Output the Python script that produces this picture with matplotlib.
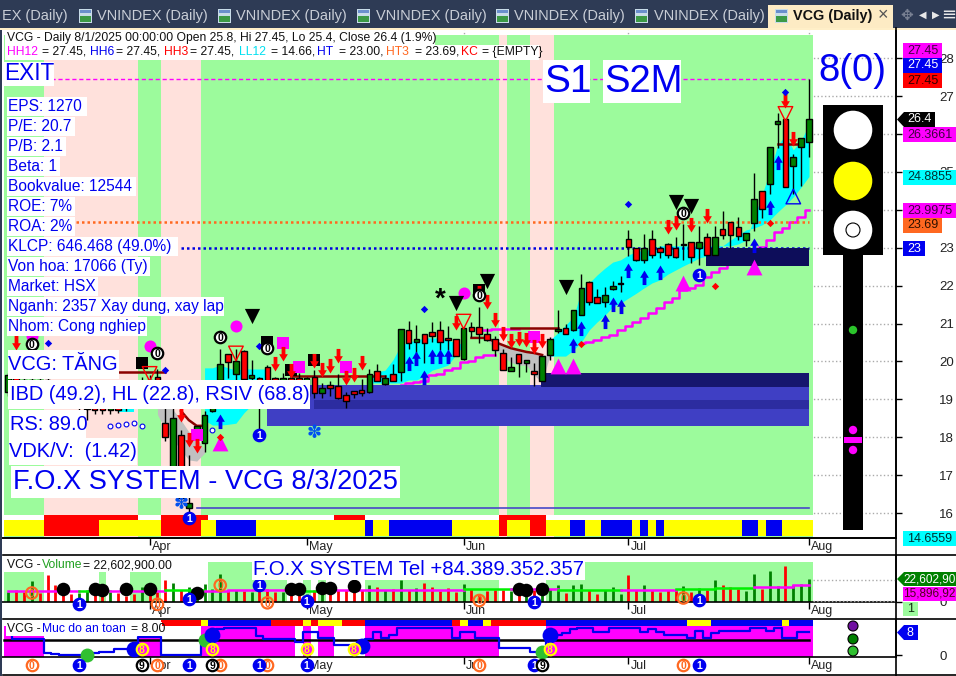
import numpy as np
import matplotlib
matplotlib.use("Agg")
import matplotlib.pyplot as plt
from matplotlib.path import Path
from matplotlib.patches import Rectangle, Circle, Polygon
from matplotlib.markers import MarkerStyle
from matplotlib.transforms import Affine2D

plt.rcParams['font.family'] = ['Liberation Sans', 'DejaVu Sans']

# ---------- DATA ----------
opens = [19.2,19.6,19.5,19.2,19.5,19.5,19.1,19.1,19.05,18.8,18.74,18.95,18.95,18.72,18.95,19.0,19.3,19.1,19.5,19.6,
         18.38,17.0,18.05,16.13,18.0,17.86,18.7,19.5,20.19,19.68,20.27,19.55,19.55,19.86,19.55,19.3,19.55,19.55,19.1,19.6,
         19.16,19.38,19.35,19.11,19.22,19.25,19.19,19.75,19.4,19.66,19.73,20.83,20.52,20.71,20.77,20.83,20.63,20.58,20.06,20.9,
         20.9,20.72,20.58,20.21,19.75,20.19,19.97,19.74,19.49,20.18,20.79,20.87,20.84,21.23,22.09,21.69,21.58,21.92,22.04,23.23,
         22.98,22.68,23.23,22.98,23.09,22.98,23.08,23.14,22.98,23.27,22.82,23.49,23.67,23.54,23.21,23.66,24.49,24.67,26.27,26.39,
         25.16,25.67,25.8]
highs = [19.7,19.7,19.6,19.6,19.6,19.7,19.2,19.2,19.1,19.1,19.0,19.05,19.05,19.0,19.0,19.1,19.4,19.6,19.65,19.8,
         18.9,18.9,18.2,17.53,18.3,18.7,19.5,20.34,20.19,20.34,20.3,20.04,19.6,19.9,19.6,19.7,19.7,19.7,19.6,19.77,
         19.42,19.47,19.68,19.2,19.22,19.53,19.79,19.93,19.64,19.93,20.85,21.06,20.96,20.71,21.03,21.06,20.93,20.6,20.87,21.05,
         21.44,20.87,20.67,20.32,20.12,20.19,20.04,19.95,20.14,20.65,21.36,21.0,21.35,22.3,22.12,21.9,21.95,22.12,22.25,23.47,
         22.98,23.36,23.47,23.05,23.12,23.27,23.62,23.16,23.57,23.4,23.57,23.97,23.67,23.8,23.38,24.96,24.49,25.67,26.55,26.4,
         25.46,25.9,27.45]
lows = [19.1,19.2,19.1,19.1,19.1,18.9,18.9,18.9,18.8,18.7,18.45,18.6,18.6,18.6,18.65,18.7,19.0,18.9,19.2,19.0,
        17.9,16.8,16.2,15.9,18.0,17.62,18.67,19.4,19.57,19.5,19.5,18.9,18.15,19.2,19.2,19.2,19.2,19.2,19.0,19.03,
        19.03,19.1,19.02,18.78,19.04,19.09,19.17,19.47,19.37,19.49,19.48,20.32,20.17,19.95,20.52,20.3,20.3,20.13,20.04,20.65,
        20.48,20.54,20.14,19.78,19.75,19.6,19.73,19.36,19.49,20.05,20.76,20.73,20.8,21.23,21.49,21.53,21.44,21.88,21.84,22.79,
        22.64,22.59,22.72,22.74,22.72,22.72,22.67,22.6,22.54,22.8,22.82,23.23,22.98,23.2,23.05,23.44,23.79,24.43,25.64,24.6,
        24.43,24.64,25.4]
closes = [19.64,19.3,19.2,19.5,19.2,19.0,19.0,18.95,18.85,19.0,18.95,18.72,18.72,18.9,18.72,18.8,19.1,19.4,19.3,19.5,
          18.0,18.5,16.4,16.26,18.3,18.58,19.4,19.92,19.99,20.0,19.54,19.65,19.3,19.4,19.3,19.55,19.3,19.35,19.55,19.16,
          19.29,19.29,19.03,18.96,19.15,19.16,19.68,19.49,19.55,19.49,20.85,20.49,20.59,20.49,20.68,20.52,20.56,20.15,20.87,20.81,
          20.71,20.56,20.31,19.78,19.84,19.97,20.04,19.68,20.14,20.58,20.85,20.73,21.35,21.93,21.58,21.53,21.74,21.99,22.04,23.03,
          22.68,22.98,22.82,22.88,22.81,22.76,23.08,22.76,23.14,22.82,23.27,23.33,23.33,23.32,23.38,24.28,24.03,25.67,26.33,24.61,
          25.38,25.89,26.4]
volume = [10,12,10,21,9,27,17,8,8,9,12,9,8,10,9,6,8,15,12,10,22,19,12,15,10,18,13,28,12,12,11,10,22,13,10,10,7,8,8,12,
          10,14,12,12,10,12,17,15,12,13,22,12,14,19,15,11,14,10,18,13,8,11,12,12,11,7,8,12,8,13,17,9,17,18,12,8,12,15,8,27,
          12,17,12,10,12,12,16,10,14,12,22,17,15,13,11,28,13,31,16,36,17,18,22.6]
vol_ma_idx = [0,9,11,13,20,25,28,33,36,40,46,58,64,70,78,85,90,95,100,102]
vol_ma_val = [11,11.5,11.5,11.5,12,11.5,12,12.5,11.5,12,12.5,13,13,12.5,12.5,13,14,15,16.7,17]
vol_ma_col = ['m','g','g','m','g','m','m','m','g','m','m','g','m','g','m','g','g','m','m']
safety = [10,5.4,5.4,5.4,5.4,0.7,0.3,0,0,0,0.8,0.8,1,1,2.2,2.2,2.2,6.3,6.3,6.3,0,0,0,0,0,5.2,6.9,8.8,9.2,9.2,9.2,9.2,6.6,5.4,5.4,5.4,5.4,
          4.6,8,8,6,6,3.5,3.5,2.4,2.4,5.4,8,5.8,6.9,9.2,9.2,9.2,9.2,9.2,9.2,9.2,5.8,8,8,5.8,5.8,5.8,2.4,2.4,2.4,2.4,1.2,1.2,6.9,6.9,7.5,8.9,
          9.2,9.2,8,8,9.2,9.2,9.2,9.2,8,8.8,8,6.9,6.9,6.9,5.8,8.2,5.8,7.5,8.2,8.2,8.2,8.2,9.2,9.2,8.2,9.2,5.8,5.8,8,8]

month_ticks = [18, 38, 58, 79, 102]
month_labels = ['Apr', 'May', 'Jun', 'Jul', 'Aug']
price_ticks = [16,17,18,19,20,21,22,23,24,25,26,27,28]
price_labels = ['16','17','18','19','20','21','22','23','','25','','27','28']

pink_runs = [(5,17),(20,25),(63,64),(67,70)]
strip_top_red = [(5,17),(20,26),(42,46),(63,69)]
strip_edges = [0,5,12,20,25,27,32,46,47,49,57,63,64,67,69,72,74,76,80,81,82,83,84,94,96,97,99,103]
strip_cols  = ['y','r','y','r','y','b','y','b','y','b','y','r','y','r','y','b','y','b','y','b','y','b','y','b','y','b','y']

vol_bg = [(0,5,30),(12,13,30),(16,20,30),(26,32,40),(32,36,22),(38,39,22),(40,41,22),(46,63,22),(69,103,40)]
safe_pink = [(0,5),(17,20),(25,37),(38,39),(40,42),(46,63),(69,103)]
safe_edges = [20,25,26,34,38,39,40,43,46,57,58,59,61,62,69,87,90,99,100,103]
safe_cols  = ['r','y','b','r','y','r','y','r','b','r','y','b','y','r','b','y','b','y','b']

cyanA_idx = list(range(69,103))
cyanA_lo = [20.14,20.14,20.14,20.3,20.51,20.83,21.04,21.22,21.44,21.54,21.67,21.8,21.94,22.07,22.15,22.3,22.41,22.52,22.62,22.73,22.78,22.89,23.05,23.2,23.34,23.47,23.52,23.6,23.73,23.94,24.13,24.34,24.6,24.88]
cyanA_hi = [20.56,20.75,20.96,21.17,21.88,22.07,22.28,22.46,22.62,22.68,22.81,22.89,22.94,22.94,23.05,23.05,23.05,23.05,23.05,23.05,23.05,23.05,23.05,23.05,23.1,23.2,23.78,24.39,25.0,25.7,25.97,25.58,25.84,26.24]
cyanB_idx = list(range(46,59))
cyanB_lo = [19.43,19.43,19.43,19.43,19.43,19.51,19.51,19.61,19.77,19.83,19.9,20.17,20.43]
cyanB_hi = [19.51,19.72,19.77,20.04,20.43,20.51,20.56,20.62,20.62,20.62,20.56,20.49,20.46]
cyanC_idx = list(range(25,34))
cyanC_lo = [18.45,18.32,18.32,18.34,18.37,18.64,18.85,18.98,19.25]
cyanC_hi = [19.83,19.83,19.9,19.83,19.77,19.8,19.8,19.8,19.8]
cyanD_idx = [14,15,16]
cyanD_lo = [18.67,18.67,18.67]
cyanD_hi = [18.85,18.85,18.85]
grayA_idx = [19,20,21,22,23,24,25]
grayA_lo = [18.6,18.19,17.93,17.66,17.4,17.37,17.58]
grayA_hi = [18.98,18.93,18.72,18.45,18.14,17.98,17.66]
grayB_idx = list(range(61,70))
grayB_lo = [20.57,20.3,20.12,19.98,19.9,19.9,19.64,19.43,20.17]
grayB_hi = [20.62,20.51,20.43,20.35,20.3,20.25,20.22,20.17,20.17]

ht_left_idx = list(range(50,63))
ht_left = [19.38,19.43,19.46,19.48,19.64,19.67,19.77,19.83,19.98,20.0,20.12,20.17,20.17]
ht_right_idx = list(range(73,103))
ht_right = [20.49,20.51,20.56,20.64,20.7,20.83,20.93,21.04,21.14,21.28,21.41,21.57,21.67,21.88,21.94,22.02,22.23,22.36,22.46,22.62,22.7,22.8,22.95,23.02,23.2,23.41,23.52,23.68,23.81,23.99]
ht_up_idx = [60,61,62,63,64,65]
ht_up = [20.83,20.83,20.86,20.86,20.86,20.86]

brown_segments = [([14,15,16,17,18,19,20],[19.72]*7),
                  ([22,23,24,25],[18.69,18.45,18.3,18.3]),
                  ([36,37,38,39,40,41,42,43,44,45,46,47,48],[19.61]*13),
                  ([59,60,61,62,63,64,65,66,67,68],[20.62,20.62,20.62,20.51,20.43,20.35,20.3,20.25,20.22,20.17]),
                  ([64,65,66,67,68,69,70],[20.88]*7),
                  ([98,99,100,101],[25.74]*4)]

zones_start = [33.4, 39.5, 68.4, 89.4]
zones_end = [102, 102, 102, 102]
zones_lo = [18.30, 18.74, 19.32, 22.52]
zones_hi = [19.38, 18.98, 19.69, 23.0]
zones_col = ['#3F3FC4', '#2C2CA0', '#16166E', '#0D0D5A']

red_arrow_i = [84,85,87,89,100,99,62,63,64,65,66,67,68,57,60,61,22,23,24,34,35,36,39,40,41,42,43,44,45,1]
red_arrow_p = [23.36,23.47,23.41,23.65,25.68,26.69,20.91,20.54,20.35,20.41,20.38,20.2,20.35,20.83,21.62,21.38,18.4,17.74,17.58,19.75,20.01,19.56,19.83,19.59,19.69,19.96,19.38,19.46,19.77,20.3]
blue_arrow_i = [83,98,97,95,79,81,77,78,76,73,72,51,52,54,55,56,53,27]
blue_arrow_p = [22.54,25.45,24.26,23.26,22.6,22.41,21.7,21.65,21.25,21.07,20.62,20.14,20.27,20.33,20.33,20.33,19.77,18.61]
black_tri_i = [85,87,71,57,61,31]
black_tri_p = [24.2,24.11,21.95,21.55,22.11,21.21]
mag_circ_i = [29,58,18,3]
mag_circ_p = [20.93,21.8,20.41,20.67]
black_sq_i = [17,33,36,39,60]
black_sq_p = [19.96,20.51,19.77,20.04,21.88]
mag_sq_i = [35,37,43,67,24]
mag_sq_p = [20.49,19.85,19.85,20.64,18.06]
blue_dia_i = [32,20,53,99,79,5]
blue_dia_p = [20.41,19.77,21.38,27.11,24.15,20.49]
red_dia_i = [97,90,73,27]
red_dia_p = [23.65,21.99,20.46,18.0]
mag_tri_i = [27,70,72,86,95]
mag_tri_p = [17.85,19.87,19.89,22.07,22.5]
red_open_i = [29,58,99,18]
red_open_p = [20.21,21.05,26.53,19.67]
blue_open_i = [100]
blue_open_p = [24.35]
zero_i = [27,19,86,3,33,60]
zero_p = [20.64,20.22,23.92,20.46,20.35,21.75]
one_i = [32,23,88]
one_p = [18.06,15.87,22.28]
small_o_i = [13,14,15,16,17,26]
small_o_p = [18.3,18.33,18.35,18.37,18.3,18.2]

vol_black_i = [7,11,12,15,18,24,36,37,40,41,44,65,66,68]
vol_black_v = [13,13,12.5,13,13,8.7,13,13,14,14,15.7,13.5,12,13.5]
vol_zero_i = [3,19,27,33,86,60]
vol_zero_v = [9,-2.3,16.7,-0.8,4,1.5]
vol_one_i = [9,23,32,38,67,88]
vol_one_v = [-2.3,3,17,1,0,2]

bot_zero = [3,19,27,33,60,86]
bot_one = [9,23,32,38,67,88]
bot_nine = [17,26,68]
s_eight_i = [17,26,38,44,69]
s_eight_v = [2.1,2.1,2.1,2.1,2.1]
s_blue_i = [16,26,45,69]
s_blue_v = [2.1,6.8,3.2,6.8]
s_lime_i = [10,25,68]
s_lime_v = [0,5.2,1.1]

N = len(closes)
idx = np.arange(N)
W, H = 956, 676
GREEN_BG, PINK_BG = '#9CFB9C', '#FFE1DC'
COL = {'y':'#FFFF00','r':'#FF0000','b':'#0000F0','m':'#FF00FF','g':'#00F000'}

fig = plt.figure(figsize=(W/100, H/100), dpi=100, facecolor='white')
def make_ax(y0, y1, x1=896):
    return fig.add_axes([0, 1-y1/H, x1/W, (y1-y0)/H])

x_left = (0-8.3)/7.85
x_right = (896-8.3)/7.85

ax = make_ax(30, 538)
ax.set_xlim(x_left, x_right)
ax.set_ylim(16+(513-538)/37.9, 16+(513-30)/37.9)
axv = make_ax(555, 602); axv.set_xlim(x_left, x_right); axv.set_ylim(0, 47)
axs = make_ax(619, 657); axs.set_xlim(x_left, x_right); axs.set_ylim(-0.58, 12.3)

for a in (ax, axv, axs):
    a.set_facecolor('white')
    for s in ('left','top'):
        a.spines[s].set_visible(False)
    a.spines['bottom'].set_linewidth(1.2)
    a.spines['right'].set_linewidth(1.2)
    a.yaxis.tick_right()
    a.set_xticks(month_ticks)
    a.set_xticklabels(month_labels, ha='left', fontsize=9, color='#222222')
    a.tick_params(axis='x', length=5, width=1, pad=-2.5)
    a.tick_params(axis='y', length=4, width=1, pad=27, labelsize=9.5, labelcolor='#222222')
    for lb in a.get_xticklabels():
        lb.set_transform(lb.get_transform() + Affine2D().translate(2, 0))
    a.set_axisbelow(True)
ax.grid(True, ls=':', color='#AAAAAA', lw=1)

ax.set_yticks(price_ticks)
ax.set_yticklabels(price_labels)
axv.set_yticks([0]); axv.set_yticklabels(['0'])
axs.set_yticks([0]); axs.set_yticklabels(['0'])

# ---------- main background ----------
top_frac = (538-35)/508
ax.axvspan(-0.5, N-0.5, ymin=0, ymax=top_frac, color=GREEN_BG, lw=0, zorder=0.7)
for a_, b_ in pink_runs:
    ax.axvspan(a_-0.5, b_-0.5, ymin=0, ymax=top_frac, color=PINK_BG, lw=0, zorder=0.75)

y_p = lambda y: 16+(513-y)/37.9
ax.broken_barh([(-0.5, N)], (y_p(520), y_p(515)-y_p(520)), facecolors='white', zorder=0.8)
for a_, b_ in strip_top_red:
    ax.broken_barh([(a_-0.5, b_-a_)], (y_p(520), y_p(515)-y_p(520)), facecolors='#FF0000', zorder=0.9)
for k, c in enumerate(strip_cols):
    ax.broken_barh([(strip_edges[k]-0.5, strip_edges[k+1]-strip_edges[k])], (y_p(536), y_p(520)-y_p(536)),
                   facecolors=COL[c], zorder=0.9)

# ---------- bands ----------
for i_, lo, hi in ((cyanA_idx,cyanA_lo,cyanA_hi),(cyanB_idx,cyanB_lo,cyanB_hi),(cyanC_idx,cyanC_lo,cyanC_hi),(cyanD_idx,cyanD_lo,cyanD_hi)):
    ax.fill_between(i_, lo, hi, color='#00FFFF', lw=0, zorder=1)
for i_, lo, hi in ((grayA_idx,grayA_lo,grayA_hi),(grayB_idx,grayB_lo,grayB_hi)):
    ax.fill_between(i_, lo, hi, color='#C0C0C0', lw=0, zorder=1)

# ---------- lines ----------
for i_, v_ in ((ht_left_idx,ht_left),(ht_right_idx,ht_right),(ht_up_idx,ht_up)):
    ax.plot(i_, v_, color='#FF00FF', lw=1.8, drawstyle='steps-mid', zorder=1.5)
ax.plot([x_left+6.5, 102], [27.45]*2, color='#FF00FF', lw=1, ls=(0,(3,2)), zorder=1.6)
ax.plot([8.6, 102], [23.69]*2, color='#FF6820', lw=1.8, ls=(0,(1,1.2)), zorder=1.6)
ax.plot([22, 102], [23.0]*2, color='#0000E0', lw=1.8, ls=(0,(1,1.2)), zorder=1.6)
ax.plot([24, 102], [16.12]*2, color='#4848C8', lw=1.2, zorder=1.6)
for i_, v_ in brown_segments:
    ax.plot(i_, v_, color='#8B0000', lw=1.8, zorder=2.6)

# ---------- support zones ----------
for a_, b_, lo, hi, c in zip(zones_start, zones_end, zones_lo, zones_hi, zones_col):
    ax.broken_barh([(a_-0.5, b_-a_+0.5)], (lo, hi-lo), facecolors=c, zorder=2)

# ---------- candles ----------
o, h, l, c_ = map(np.array, (opens, highs, lows, closes))
ax.vlines(idx, l, h, color='black', lw=1, zorder=3)
colors = np.where(c_ >= o, '#008000', '#FF0000')
ax.bar(idx, np.maximum(np.abs(c_-o), 0.02), bottom=np.minimum(o, c_), width=0.72,
       color=colors, edgecolor='black', linewidth=1, zorder=3.2)

# ---------- markers ----------
def arrow_marker(points_up):
    v = [(0,0),(0.3,-0.5),(0.13,-0.5),(0.13,-1),(-0.13,-1),(-0.13,-0.5),(-0.3,-0.5),(0,0)]
    v = [(x, y if points_up else -y) for x, y in v]
    return MarkerStyle(Path(v, closed=True))

ax.scatter(black_sq_i, black_sq_p, marker='s', s=75, color='black', lw=0, zorder=4)
ax.scatter(mag_sq_i, mag_sq_p, marker='s', s=75, color='#FF00FF', lw=0, zorder=4)
ax.scatter(mag_circ_i, mag_circ_p, marker='o', s=75, color='#FF00FF', lw=0, zorder=4)
ax.scatter(black_tri_i, black_tri_p, marker='v', s=120, color='black', lw=0, zorder=4)
ax.scatter(mag_tri_i, mag_tri_p, marker='^', s=130, color='#FF00FF', lw=0, zorder=3.1)
ax.scatter(blue_arrow_i, blue_arrow_p, marker=arrow_marker(True), s=440, color='#0000F0', lw=0, zorder=4.2)
ax.scatter(red_arrow_i, red_arrow_p, marker=arrow_marker(False), s=440, color='#FF0000', lw=0, zorder=4.3)
ax.scatter(red_open_i, red_open_p, marker='v', s=110, facecolor='none', edgecolor='#FF0000', lw=1, zorder=4.4)
ax.scatter(blue_open_i, blue_open_p, marker='^', s=110, facecolor='none', edgecolor='#0000F0', lw=1, zorder=4.4)
ax.scatter(blue_dia_i, blue_dia_p, marker='D', s=14, color='#0000F0', lw=0, zorder=4.5)
ax.scatter(red_dia_i, red_dia_p, marker='D', s=14, color='#FF0000', lw=0, zorder=4.5)
ax.scatter(small_o_i, small_o_p, marker='o', s=12, facecolor='white', edgecolor='#0000F0', lw=0.8, zorder=4.5)

def digit_marks(a, xs, ys, txt, fc, ec, tc, clip=False, s=68, lw=1.6, z=5):
    a.scatter(xs, ys, marker='o', s=s, facecolor=fc, edgecolor=ec, linewidth=lw, zorder=z, clip_on=clip)
    for x_, y_ in zip(xs, ys):
        a.text(x_, y_, txt, ha='center', va='center_baseline', fontsize=7.5, fontweight='bold',
               color=tc, zorder=z+0.1, clip_on=clip)

digit_marks(ax, zero_i, zero_p, '0', 'white', 'black', 'black')
digit_marks(ax, one_i, one_p, '1', '#0000F0', '#0000F0', 'white')
ax.text(55, 21.62, '*', fontsize=20, ha='center', va='center', color='black', zorder=5, fontweight='bold')
ax.text(39, 18.1, '✽', fontsize=13, ha='center', va='center', color='#0050F0', zorder=5, family='DejaVu Sans')
ax.text(22, 16.25, '✽', fontsize=13, ha='center', va='center', color='#0050F0', zorder=5, family='DejaVu Sans')

# ---------- volume panel ----------
for a_, b_, t_ in vol_bg:
    axv.broken_barh([(a_-0.5, b_-a_)], (0, t_), facecolors=GREEN_BG, zorder=0.8)
axv.vlines(idx, 0, volume, color=colors, lw=2, zorder=2)
for k, c in enumerate(vol_ma_col):
    axv.plot(vol_ma_idx[k:k+2], [vol_ma_val[k]]*2, color=COL[c], lw=1.8, zorder=2.5)
axv.scatter(vol_black_i, vol_black_v, marker='o', s=95, color='black', lw=0, zorder=3, clip_on=False)
digit_marks(axv, vol_zero_i, vol_zero_v, '0', 'none', '#FF6820', '#FF6820')
digit_marks(axv, vol_one_i, vol_one_v, '1', '#0000F0', '#0000F0', 'white')

# ---------- safety panel ----------
for a_, b_ in safe_pink:
    axs.broken_barh([(a_-0.5, b_-a_)], (-0.58, 10.48), facecolors='#FF00FF', zorder=0.8)
for k, c in enumerate(safe_cols):
    axs.broken_barh([(safe_edges[k]-0.5, safe_edges[k+1]-safe_edges[k])], (9.9, 1.9), facecolors=COL[c], zorder=0.9)
axs.plot([-0.5, 102], [5.2, 5.2], color='black', lw=1.8, zorder=1)
axs.plot(idx, safety, color='#0000F0', lw=1.6, drawstyle='steps-mid', zorder=2)
axs.scatter(s_lime_i, s_lime_v, marker='o', s=100, color='#30C030', lw=0, zorder=3, clip_on=False)
axs.scatter(s_blue_i, s_blue_v, marker='o', s=130, color='#0000F0', lw=0, zorder=3)
digit_marks(axs, s_eight_i, s_eight_v, '8', '#FF00FF', '#FFFF00', '#FFFF00', clip=True, z=4)
by = [-3.4]
digit_marks(axs, bot_zero, by*len(bot_zero), '0', 'white', '#FF6820', '#FF6820')
digit_marks(axs, bot_one, by*len(bot_one), '1', '#0000F0', '#0000F0', 'white', z=5.5)
digit_marks(axs, bot_nine, by*len(bot_nine), '9', 'white', 'black', 'black', z=5.8)

# ---------- overlay (pixel space) ----------
ov = fig.add_axes([0, 0, 1, 1], zorder=20)
ov.set_xlim(0, W); ov.set_ylim(H, 0); ov.axis('off'); ov.patch.set_alpha(0)

def rect(x0, y0, x1, y1, c, z=1, **kw):
    ov.add_patch(Rectangle((x0, y0), x1-x0, y1-y0, facecolor=c, edgecolor='none', zorder=z, **kw))

def T(x, y, s, size, color='black', ha='left', z=6, **kw):
    return ov.text(x, y, s, fontsize=size, color=color, ha=ha, va='center', zorder=z, **kw)

def BT(x0, y0, x1, y1, s, size, color='#0000F0', tx=None):
    rect(x0, y0, x1, y1, 'white', z=5)
    T(x0+1 if tx is None else tx, (y0+y1)/2, s, size, color=color)

# frame
rect(0, 0, W, 28, '#2E3B55', z=2)
rect(0, 28, W, 30, '#FFEFC8', z=2)
rect(0, 30, 2, H, '#2E3B55', z=2)
ov.plot([3, W], [555, 555], color='black', lw=1.2, zorder=3)
ov.plot([3, W], [619, 619], color='black', lw=1.2, zorder=3)
ov.plot([3, W], [675, 675], color='black', lw=1.2, zorder=3)
ov.plot([896, 896], [28, H], color='black', lw=1.2, zorder=3)
ov.plot([3, 896], [538, 538], color='black', lw=1.2, zorder=3)
ov.plot([813, 896], [580, 580], color='#AAAAAA', lw=1, ls=':', zorder=1)
ov.plot([813, 896], [601, 601], color='#AAAAAA', lw=1, ls=':', zorder=1)

tab_font = 10.45
T(68, 16, 'EX (Daily)', tab_font, '#C8CDD6', ha='right', z=3)
def tab_icon(x):
    rect(x, 9, x+13, 23, '#C8DCE8', z=3)
    rect(x+1, 16, x+12, 22, '#3C9A46', z=3.1)
    rect(x+1, 10, x+12, 13, '#6A8FCC', z=3.1)
for ix, tx_ in ((79,97),(218,236),(357,376),(496,514),(635,654)):
    tab_icon(ix)
    T(tx_, 16, 'VNINDEX (Daily)', tab_font, '#C8CDD6', z=3)
rect(768, 5, 893, 28, '#FDEBC4', z=2.5)
tab_icon(775)
T(793, 16, 'VCG (Daily)', 10.4, '#111111', fontweight='bold', z=3)
T(883, 15.5, '×', 13, '#555555', ha='center', z=3)
T(907, 15, '✥', 11, '#7A8294', ha='center', z=3, family='DejaVu Sans')
T(923, 15, '◀', 7, '#E8E8E8', ha='center', z=3, family='DejaVu Sans')
T(936, 15, '▶', 7, '#E8E8E8', ha='center', z=3, family='DejaVu Sans')
T(949, 15, '≡', 13, '#E8E8E8', ha='center', z=3, family='DejaVu Sans')

# header
hdr = 8.75
rect(5, 31, 435, 45, 'white', z=5)
rect(5, 45, 539, 60, 'white', z=5)
T(7, 38, 'VCG - Daily 8/1/2025 00:00:00 Open 25.8, Hi 27.45, Lo 25.4, Close 26.4 (1.9%)', hdr, '#111111')
for x_, s_, c_2 in ((7,'HH12','#FF00FF'),(42,'= 27.45,','#111111'),(90,'HH6','#0000F0'),(116,'= 27.45,','#111111'),
                    (164,'HH3','#FF0000'),(190,'= 27.45,','#111111'),(239,'LL12','#00E0F0'),(271,'= 14.66,','#111111'),
                    (317,'HT','#0000F0'),(339,'= 23.00,','#111111'),(386,'HT3','#FF6820'),(415,'= 23.69,','#111111'),
                    (461,'KC','#FF0000'),(482,'= {EMPTY}','#111111')):
    T(x_, 52, s_, hdr, c_2)

BT(4, 62, 54, 86, 'EXIT', 16.3, tx=4)
BT(543, 60, 590, 103, 'S1', 28, tx=544)
BT(603, 60, 681, 103, 'S2M', 27.5, tx=604)
T(852, 71, '8(0)', 27.5, '#0000F0', ha='center')

info = ['EPS: 1270','P/E: 20.7','P/B: 2.1','Beta: 1','Bookvalue: 12544','ROE: 7%','ROA: 2%',
        'KLCP: 646.468 (49.0%)','Von hoa: 17066 (Ty)','Market: HSX','Nganh: 2357 Xay dung, xay lap','Nhom: Cong nghiep']
info_r = [87,75,66,60,136,75,75,178,150,98,224,147]
for k, (s_, r_) in enumerate(zip(info, info_r)):
    BT(7, 97+20*k, r_, 116+20*k, s_, 11.2, tx=8)

BT(8, 350, 119, 379, 'VCG: TĂNG', 14.4, tx=8)
BT(8, 380, 310, 409, 'IBD (49.2), HL (22.8), RSIV (68.8)', 14.4, tx=10)
BT(9, 410, 86, 440, 'RS: 89.0', 14.4, tx=10)
BT(9, 438, 137, 465, 'VDK/V:  (1.42)', 14.4, tx=9)
BT(11, 466, 400, 498, 'F.O.X SYSTEM - VCG 8/3/2025', 19.6, tx=13)
BT(252, 559, 585, 580, 'F.O.X SYSTEM Tel +84.389.352.357', 14.7, tx=253)

rect(6, 558, 178, 572, 'white', z=5)
T(7, 565, 'VCG -', hdr, '#111111'); T(42, 565, 'Volume', hdr, '#20A020'); T(83, 565, '= 22,602,900.00', hdr, '#111111')
rect(6, 622, 162, 636, 'white', z=5)
T(7, 629, 'VCG -', hdr, '#111111'); T(42, 629, 'Muc do an toan', hdr, '#0000F0'); T(131, 629, '= 8.00', hdr, '#111111')

# traffic light
rect(843, 255, 863, 530, 'black', z=3)
rect(823, 105, 883, 255, 'black', z=3)
for cy, col in ((130,'white'),(181,'#FFFF00'),(230,'white')):
    ov.add_patch(Circle((853, cy), 19.3, facecolor=col, edgecolor='none', zorder=4))
ov.add_patch(Circle((853, 230), 7, facecolor='white', edgecolor='black', lw=0.8, zorder=4.1))
ov.add_patch(Circle((853, 330), 4.2, facecolor='#2BC42B', edgecolor='none', zorder=4))
ov.add_patch(Circle((853, 430), 4.2, facecolor='#FF00FF', edgecolor='none', zorder=4))
ov.add_patch(Circle((853, 450), 4.2, facecolor='#FF00FF', edgecolor='none', zorder=4))
rect(844, 437, 862, 443, '#FF00FF', z=4)
for cy, col in ((626,'#7010A0'),(639,'#008000'),(651,'#30C030')):
    ov.add_patch(Circle((853, cy), 5, facecolor=col, edgecolor='black', lw=0.8, zorder=4))

# right value tags
tags = [(903,942,43,58,'27.45','#FF00FF','#400040'),(903,942,58,73,'27.45','#0000F0','white'),(903,942,73,88,'27.45','#FF0000','#300000'),
        (903,956,127,142,'26.3661','#FF00FF','#400040'),(903,956,170,185,'24.8855','#00FFFF','#003030'),
        (903,956,203,218,'23.9975','#FF00FF','#400040'),(903,942,218,233,'23.69','#FF6820','#301000'),
        (903,925,241,256,'23','#0000F0','white'),(903,956,531,546,'14.6559','#00FFFF','#003030')]
for x0, x1, y0, y1, s_, bg, fg in tags:
    rect(x0, y0, x1, y1, bg, z=5)
    T(x0+4, (y0+y1)/2, s_, 9.0, fg)
rect(903, 587, 956, 601, '#FF00FF', z=5); T(903.5, 594, '15,896,92', 8.5, '#500020')
rect(903, 602, 918, 616, '#9CFB9C', z=5); T(907, 609, '1', 9.0, '#103010')
def tag_arrow(y0, y1, x1, col):
    ov.add_patch(Polygon([(897,(y0+y1)/2),(904,y0),(x1,y0),(x1,y1),(904,y1)], closed=True, facecolor=col, edgecolor='none', zorder=5))
tag_arrow(112, 127, 935, 'black'); T(907, 119.5, '26.4', 9.0, 'white')
tag_arrow(572, 586, 956, '#008000'); T(903.5, 579, '22,602,90', 8.5, 'white')
tag_arrow(625, 640, 918, '#0000F0'); T(907, 632.5, '8', 9.0, 'white')

fig.savefig('out.png', dpi=100, facecolor='white')
